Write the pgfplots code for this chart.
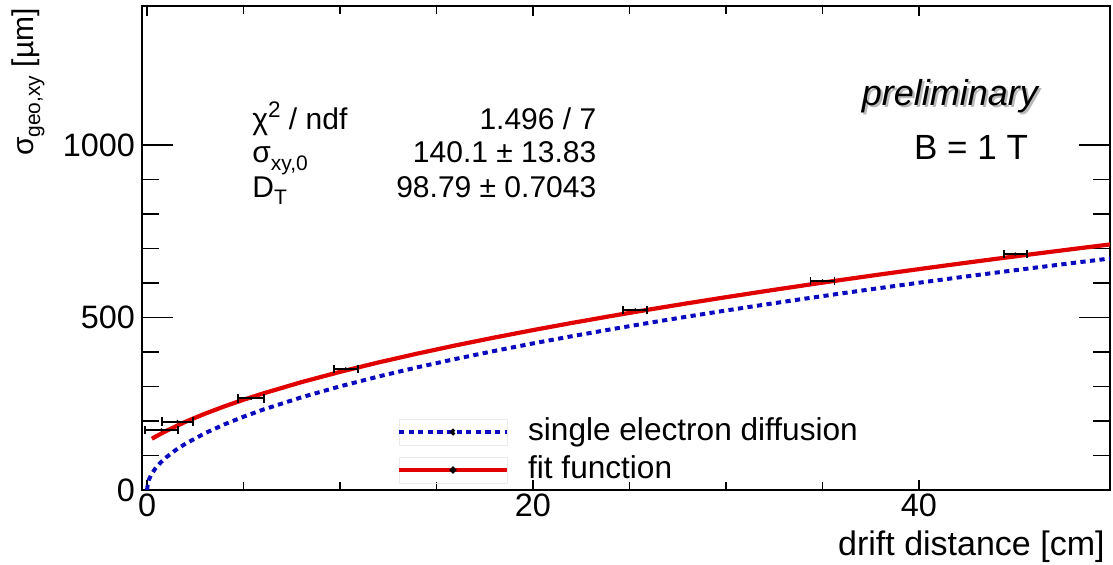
\documentclass[border=0pt]{standalone}
\usepackage{fontspec}
\setmainfont{Liberation Sans}
\usepackage{graphicx}
\usepackage{pgfplots}
\usepackage{pgfplotstable}
\pgfplotsset{compat=1.18}
\definecolor{fitred}{RGB}{225,0,0}
\definecolor{diffblue}{RGB}{10,10,190}
\newcommand\sub[1]{\raisebox{-0.45ex}{\scalebox{0.7}{#1}}}
\newcommand\super[1]{\raisebox{0.75ex}{\scalebox{0.75}{#1}}}

\pgfplotstableread{
x y ex
0.75 174 0.85
1.58 198 0.80
5.4 266 0.67
10.3 351 0.62
25.3 522 0.62
35.0 606 0.62
45.0 684 0.60
}\datatable

\begin{document}
\begin{tikzpicture}
\path[use as bounding box] (-71bp,-37.5bp) rectangle (485.5bp,245bp);
\begin{axis}[
  scale only axis, width=484bp, height=242bp,
  xmin=-0.26, xmax=49.9, ymin=0, ymax=1403,
  xtick={0,20,40}, ytick={0,500,1000},
  minor x tick num=3, minor y tick num=4,
  tick align=inside,
  xtick style={/pgfplots/major tick length=5bp,/pgfplots/minor tick length=4bp, line width=0.7bp, black},
  ytick style={/pgfplots/major tick length=15.5bp,/pgfplots/minor tick length=8.5bp, line width=0.7bp, black},
  axis line style={line width=1.1bp},
  /pgf/number format/assume math mode=true,
  /pgf/number format/1000 sep={},
  ticklabel style={font=\fontsize{16.2bp}{18bp}\selectfont},
  xticklabel style={yshift=1.5bp},
  clip=false,
  legend cell align=left,
  legend style={at={(axis cs:12.95,113)}, anchor=west, draw=none, fill=none,
    inner sep=0pt, outer sep=0pt, row sep=4bp,
    font=\fontsize{15.8bp}{18bp}\selectfont,
    nodes={inner sep=0pt, text height=11.5bp, text depth=3.5bp}},
  legend image code/.code={
    \draw[black!8, line width=0.5bp, solid] (0bp,-6.5bp) rectangle (54bp,6.5bp);
    \draw[#1] (0bp,0bp) -- (54bp,0bp);
    \fill[black] (27bp,0bp) circle (0.45bp);
    \path (63.5bp,0bp);
  },
]
\addplot[diffblue, line width=2bp, dash pattern=on 2.6bp off 2.2bp] coordinates {
(0,0)(0.05,21.2)(0.1,30)(0.2,42.5)(0.4,60.1)(0.7,79.5)(1,95)(1.5,116.4)(2,134.4)(3,164.5)(4,190)(5,212.4)(6,232.7)(8,268.7)(10,300.4)(12,329.1)(14,355.5)(16,380)(18,403.1)(20,424.9)(22,445.6)(24,465.4)(26,484.4)(28,502.7)(30,520.3)(32,537.4)(34,553.9)(36,570)(38,585.6)(40,600.8)(42,615.7)(44,630.2)(46,644.3)(48,658.2)(49.9,671.1)
};
\addlegendentry{single electron diffusion}
\addplot[fitred, line width=2.1bp] coordinates {
(0.25,148.5)(0.5,156.5)(1,171.4)(2,197.9)(3,221.1)(4,242.2)(5,261.6)(6,279.6)(8,312.6)(10,342.4)(12,369.8)(14,395.3)(16,419.3)(18,441.9)(20,463.5)(22,484.1)(24,503.8)(26,522.9)(28,541.2)(30,558.9)(32,576.1)(34,592.8)(36,609.1)(38,624.9)(40,640.3)(42,655.4)(44,670.1)(46,684.5)(48,698.6)(49.9,711.8)
};
\addlegendentry{fit function}
\addplot[black, only marks, mark=*, mark size=0.6bp, forget plot,
  error bars/.cd, x dir=both, x explicit,
  error bar style={line width=1.1bp, black},
  error mark options={rotate=90, mark size=2.2bp, line width=0.9bp, black}]
  table[x=x, y=y, x error=ex] {\datatable};

\begin{scope}[every node/.style={inner sep=0pt, font=\fontsize{15bp}{17bp}\selectfont}]
\node[anchor=base west] at (axis cs:5.44,1046) {χ\super{2} / ndf};
\node[anchor=base east] at (axis cs:23.3,1046) {1.496 / 7};
\node[anchor=base west] at (axis cs:5.44,948) {σ\sub{xy,0}};
\node[anchor=base east] at (axis cs:23.3,948) {140.1 ± 13.83};
\node[anchor=base west] at (axis cs:5.44,849) {D\sub{T}};
\node[anchor=base east] at (axis cs:23.3,849) {98.79 ± 0.7043};
\end{scope}
\node[inner sep=0pt, text=black!28, xshift=1.2bp, yshift=-1.2bp, font=\fontsize{18bp}{20bp}\selectfont\itshape] at (axis cs:41.6,1142) {preliminary};
\node[inner sep=0pt, font=\fontsize{18bp}{20bp}\selectfont\itshape] at (axis cs:41.6,1142) {preliminary};
\node[inner sep=0pt, font=\fontsize{17.5bp}{20bp}\selectfont] at (axis cs:42.7,994) {B = 1 T};
\node[anchor=base east, inner sep=0pt, font=\fontsize{17bp}{20bp}\selectfont] at (axis cs:49.64,-191) {drift distance [cm]};
\node[rotate=90, anchor=east, inner sep=0pt, font=\fontsize{15bp}{18bp}\selectfont] at (rel axis cs:-0.1178,0.996) {σ\sub{geo,xy} [µm]};
\end{axis}
\end{tikzpicture}
\end{document}
